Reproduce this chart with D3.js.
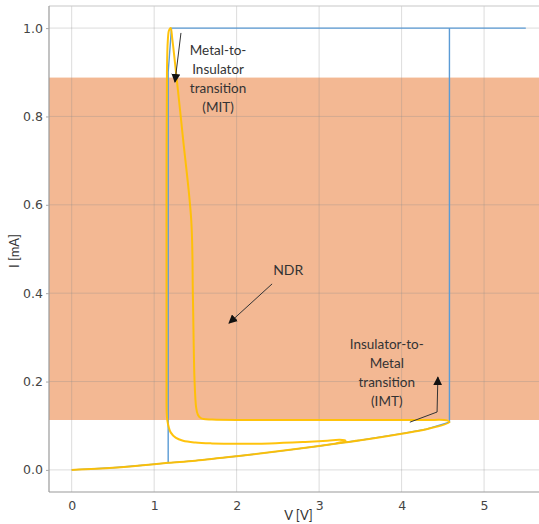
<!DOCTYPE html>
<html><head><meta charset="utf-8">
<script src="https://cdn.jsdelivr.net/npm/d3@7"></script>
<style>
html,body{margin:0;padding:0;background:#fff;}
svg{display:block;}
</style></head>
<body>
<svg id="chart" width="539" height="524"></svg>
<script>
// ---- data ----
const xTicks = [0, 1, 2, 3, 4, 5];
const yTicks = [0.0, 0.2, 0.4, 0.6, 0.8, 1.0];
const ndrBand = [0.113, 0.888];           // shaded NDR current range (mA)
// compliance / source path (blue)
const blueV = [0, 0.5, 0.83, 1.17, 1.5, 2.0, 2.5, 3.0, 3.3, 3.5, 4.0, 4.3, 4.58, 4.58, 5.5, 1.21, 1.17, 1.17, 0.83, 0.5, 0];
const blueI = [0, 0.005, 0.010, 0.016, 0.021, 0.031, 0.042, 0.054, 0.062, 0.067, 0.082, 0.092, 0.108, 1.0, 1.0, 1.0, 0.9, 0.016, 0.010, 0.005, 0];
// measured I-V hysteresis loop (yellow)
const loopV = [0, 0.5, 0.83, 1.17, 1.5, 2.0, 2.5, 3.0, 3.3, 3.5, 4.0, 4.3, 4.58,
  4.55, 4.3, 3.5, 3.0, 2.5, 2.0, 1.7, 1.6, 1.56, 1.53, 1.51, 1.49, 1.47, 1.45, 1.35, 1.25, 1.22, 1.2,
  1.18, 1.165, 1.155, 1.15, 1.15, 1.15, 1.152, 1.16, 1.175, 1.2, 1.26, 1.35, 1.5, 1.7, 2.0, 2.4, 2.8, 3.1, 3.25, 3.32, 3.28, 3.2];
const loopI = [0, 0.005, 0.010, 0.016, 0.021, 0.031, 0.042, 0.054, 0.062, 0.067, 0.082, 0.092, 0.108,
  0.112, 0.113, 0.113, 0.113, 0.113, 0.113, 0.114, 0.115, 0.118, 0.125, 0.14, 0.2, 0.39, 0.564, 0.75, 0.926, 0.975, 1.0,
  0.995, 0.97, 0.9, 0.7, 0.4, 0.2, 0.13, 0.112, 0.098, 0.085, 0.073, 0.066, 0.062, 0.06, 0.059, 0.06, 0.063, 0.066, 0.068, 0.066, 0.063, 0.060];
const xLabel = "V [V]";
const yLabel = "I [mA]";
const mitText = ["Metal-to-", "Insulator", "transition", "(MIT)"];
const imtText = ["Insulator-to-", "Metal", "transition", "(IMT)"];
const ndrText = "NDR";

// ---- layout ----
const svg = d3.select("#chart");
const L = 49, R = 548, T = 6, B = 492;
const x = d3.scaleLinear().domain([-0.275, 5.775]).range([L, R]);
const y = d3.scaleLinear().domain([-0.05, 1.05]).range([B, T]);

const defs = svg.append("defs");
defs.append("marker").attr("id", "ah").attr("viewBox", "0 0 10 10")
  .attr("refX", 9).attr("refY", 5).attr("markerWidth", 9).attr("markerHeight", 9)
  .attr("markerUnits", "userSpaceOnUse").attr("orient", "auto")
  .append("path").attr("d", "M0,0 L10,5 L0,10 Z").attr("fill", "#111");
defs.append("clipPath").attr("id", "clip").append("rect")
  .attr("x", L).attr("y", T).attr("width", R - L).attr("height", B - T);

const plot = svg.append("g").attr("clip-path", "url(#clip)");

// NDR band
plot.append("rect")
  .attr("x", L).attr("width", R - L)
  .attr("y", y(ndrBand[1])).attr("height", y(ndrBand[0]) - y(ndrBand[1]))
  .attr("fill", "#F3B893");

// grid
plot.append("g").selectAll("line").data(xTicks).join("line")
  .attr("x1", d => x(d)).attr("x2", d => x(d)).attr("y1", T).attr("y2", B)
  .attr("stroke", "rgba(140,140,140,0.3)").attr("stroke-width", 1);
plot.append("g").selectAll("line").data(yTicks).join("line")
  .attr("y1", d => y(d)).attr("y2", d => y(d)).attr("x1", L).attr("x2", R)
  .attr("stroke", "rgba(140,140,140,0.3)").attr("stroke-width", 1);

const line = d3.line().x(d => x(d[0])).y(d => y(d[1]));
const bluePts = blueV.map((v, i) => [v, blueI[i]]);
const loopPts = loopV.map((v, i) => [v, loopI[i]]);

plot.append("path").attr("d", line(bluePts)).attr("fill", "none")
  .attr("stroke", "#5B9BD5").attr("stroke-width", 1.4).attr("stroke-linejoin", "round");
plot.append("path").attr("d", d3.line().curve(d3.curveCatmullRom.alpha(0.5)).x(d => x(d[0])).y(d => y(d[1]))(loopPts))
  .attr("fill", "none").attr("stroke", "#FFC000").attr("stroke-width", 2).attr("stroke-linejoin", "round")
  .attr("opacity", 0.95);

// spines
svg.append("line").attr("x1", L).attr("x2", R).attr("y1", T).attr("y2", T).attr("stroke", "#c8c8c8").attr("stroke-width", 1.2);
svg.append("line").attr("x1", L).attr("x2", L).attr("y1", T).attr("y2", B).attr("stroke", "#9a9a9a").attr("stroke-width", 1.2);
svg.append("line").attr("x1", L).attr("x2", R).attr("y1", B).attr("y2", B).attr("stroke", "#9a9a9a").attr("stroke-width", 1.2);

// axes
const xAxis = svg.append("g").attr("transform", `translate(0,${B})`)
  .call(d3.axisBottom(x).tickValues(xTicks).tickFormat(d3.format("d")).tickSize(0).tickPadding(9));
const yAxis = svg.append("g").attr("transform", `translate(${L},0)`)
  .call(d3.axisLeft(y).tickValues(yTicks).tickFormat(d3.format(".1f")).tickSize(3).tickPadding(3));
[xAxis, yAxis].forEach(a => {
  a.select(".domain").remove();
  a.selectAll("line").attr("stroke", "#aaa");
  a.selectAll("text").attr("font-family", "DejaVu Sans, sans-serif").attr("font-size", 12.5).attr("fill", "#444");
});

// axis labels
svg.append("text").attr("x", (L + R) / 2).attr("y", 520).attr("text-anchor", "middle")
  .attr("font-family", "Lato, sans-serif").attr("font-size", 13).attr("fill", "#333").text(xLabel);
svg.append("text").attr("transform", `translate(19,${(T + B) / 2 + 2}) rotate(-90)`).attr("text-anchor", "middle")
  .attr("font-family", "Lato, sans-serif").attr("font-size", 13).attr("fill", "#333").text(yLabel);

// annotations
function multiText(lines, vx, iy0) {
  const t = svg.append("text").attr("text-anchor", "middle")
    .attr("font-family", "Lato, sans-serif").attr("font-size", 13.5).attr("fill", "#333");
  lines.forEach((s, k) => t.append("tspan").attr("x", x(vx)).attr("y", y(iy0) + 5 + k * 19).text(s));
}
multiText(mitText, 1.775, 0.95);
multiText(imtText, 3.82, 0.285);
svg.append("text").attr("x", x(2.625)).attr("y", y(0.452) + 5).attr("text-anchor", "middle")
  .attr("font-family", "Lato, sans-serif").attr("font-size", 14).attr("fill", "#333").text(ndrText);

const arrowLine = d3.line().x(d => x(d[0])).y(d => y(d[1]));
function arrow(pts) {
  svg.append("path").attr("d", arrowLine(pts)).attr("fill", "none")
    .attr("stroke", "#333").attr("stroke-width", 1).attr("marker-end", "url(#ah)");
}
arrow([[1.325, 0.989], [1.252, 0.878]]);
arrow([[2.43, 0.421], [1.907, 0.332]]);
arrow([[4.10, 0.108], [4.43, 0.131], [4.44, 0.21]]);
</script>
</body></html>
